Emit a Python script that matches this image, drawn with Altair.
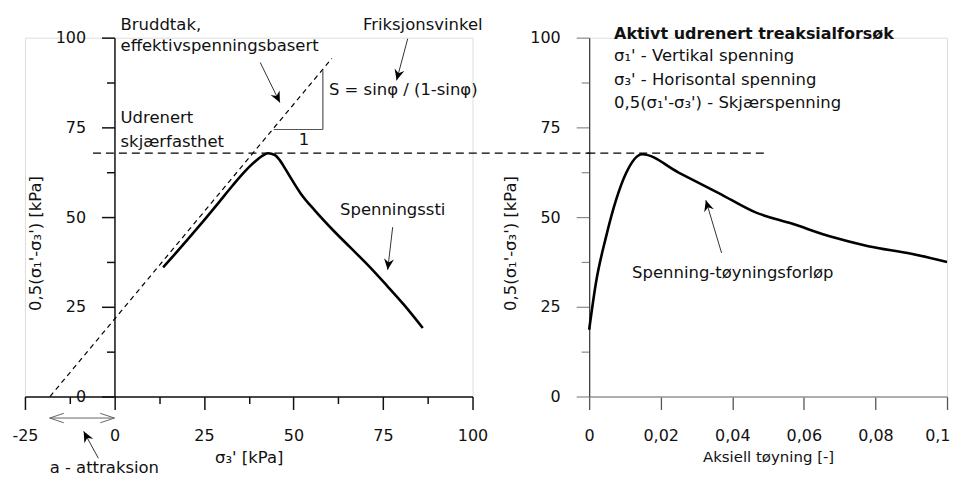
import altair as alt
import pandas as pd

FONT = "DejaVu Sans"
TXT = "#111111"

# ---------------- data ----------------
# Left panel: stress path (sigma3', 0.5(s1'-s3'))
path_x = [13.6, 17.0, 21.0, 25.0, 29.0, 33.0, 36.5, 39.5, 41.5, 42.9, 44.8, 46.2, 47.8, 49.5, 52.0, 56.0, 61.0, 66.0, 71.0, 76.0, 81.0, 86.1]
path_y = [36.0, 39.8, 44.4, 49.1, 53.9, 58.8, 62.8, 65.7, 67.2, 67.8, 67.3, 65.8, 63.3, 60.5, 56.6, 51.8, 46.4, 41.4, 36.4, 31.0, 25.4, 19.1]

# Right panel: stress-strain curve
strain = [0.0, 0.00195, 0.0047, 0.0075, 0.0103, 0.0148, 0.025, 0.0362, 0.0465, 0.0566, 0.0677, 0.078, 0.09, 0.1]
shear = [18.6, 32.0, 44.4, 54.7, 62.2, 67.5, 62.4, 56.7, 51.3, 48.2, 44.5, 41.9, 39.8, 37.5]

# failure envelope (dashed)
env_x = [-18.0, 60.7]
env_y = [0.0, 94.2]
# undrained strength level
su = 67.8

left_ticks = [-25, -12.5, 0, 12.5, 25, 37.5, 50, 62.5, 75, 87.5, 100]
y_ticks = [0, 12.5, 25, 37.5, 50, 62.5, 75, 87.5, 100]
right_ticks = [0, 0.01, 0.02, 0.03, 0.04, 0.05, 0.06, 0.07, 0.08, 0.09, 0.1]

# left annotations
left_text = ["Bruddtak,", "effektivspenningsbasert", "Udrenert", "skjærfasthet",
             "S = sinφ / (1-sinφ)", "Friksjonsvinkel", "Spenningssti", "a - attraksion"]
left_text_x = [1.7, 1.7, 1.7, 1.7, 59.9, 69.4, 63.0, -18.1]
left_text_y = [103.6, 97.8, 77.5, 70.8, 85.3, 103.6, 51.9, -20.0]

one_x, one_y = [52.9], [71.4]

# triangle (slope indicator)
tri_x = [44.5, 58.2]
tri_x2 = [58.2, 58.2]
tri_y = [74.4, 74.4]
tri_y2 = [74.4, 90.9]

# arrows left: start -> tip, head angle
arr_x = [40.7, 81.9, 77.7, -4.5]
arr_y = [93.1, 99.7, 47.2, -17.2]
arr_x2 = [46.2, 78.8, 76.3, -8.6]
arr_y2 = [81.9, 88.1, 35.3, -9.7]
arr_ang = [154, 195, 187, 332]

# double arrow "a"
att_x = [-18.1, 0.0]
att_y = -6.0

# right annotations
right_title = ["Aktivt udrenert treaksialforsøk"]
right_lines = ["σ₁' - Vertikal spenning", "σ₃' - Horisontal spenning",
               "0,5(σ₁'-σ₃') - Skjærspenning", "Spenning-tøyningsforløp"]
right_lines_x = [0.00696, 0.00696, 0.00696, 0.012]
right_lines_y = [95.0, 88.3, 81.7, 34.4]

rarr_x, rarr_y, rarr_x2, rarr_y2, rarr_ang = [0.0370], [40.0], [0.0326], [54.7], [343]

# ---------------- helpers ----------------
HEAD = "M0,0 L1,2.2 L0,1.5 L-1,2.2 Z"
CHEV = "M-1,3 L0,0 L1,3"

def cond(test, major, minor):
    return {"condition": {"test": test, "value": major}, "value": minor}

def base_axis(**kw):
    d = dict(grid=False, labelFont=FONT, labelFontSize=16, labelColor=TXT,
             titleFont=FONT, titleFontSize=16.5, titleFontWeight="normal", titleColor=TXT,
             labelFlush=False, labelOverlap=False)
    d.update(kw)
    return alt.Axis(**d)

W_L, W_R, H = 449, 359, 360

# ---------------- left panel ----------------
xl = alt.Scale(domain=[-25, 100], nice=False, zero=False)
yl = alt.Scale(domain=[0, 100], nice=False, zero=False)

lx_axis = base_axis(values=left_ticks,
                    labelExpr="datum.value % 25 === 0 ? '' + datum.value : ''",
                    tickSize=cond("datum.value % 25 === 0", 13, 7),
                    labelPadding=18, domainColor="#111", tickColor="#111",
                    domainWidth=1.5, tickWidth=1.5, title="σ₃' [kPa]", titlePadding=6)
ly_axis = base_axis(values=y_ticks,
                    labelExpr="datum.value % 25 === 0 ? '' + datum.value : ''",
                    tickSize=cond("datum.value % 25 === 0", 13, 8),
                    labelPadding=16, offset=-89.8, domainColor="#111", tickColor="#111",
                    domainWidth=1.5, tickWidth=1.5, title="0,5(σ₁'-σ₃') [kPa]",
                    titleX=-71, titleY=206)

df_path = pd.DataFrame({"x": path_x, "y": path_y, "i": range(len(path_x))})
path = alt.Chart(df_path).mark_line(color="black", strokeWidth=2.6, clip=False,
                                    interpolate="monotone").encode(
    x=alt.X("x:Q", scale=xl, axis=lx_axis),
    y=alt.Y("y:Q", scale=yl, axis=ly_axis),
    order="i:Q")

df_env = pd.DataFrame({"x": [env_x[0]], "x2": [env_x[1]], "y": [env_y[0]], "y2": [env_y[1]]})
env = alt.Chart(df_env).mark_rule(color="black", strokeWidth=1.2, strokeDash=[5, 4]).encode(
    x=alt.X("x:Q", scale=xl), x2="x2", y=alt.Y("y:Q", scale=yl), y2="y2")

df_su = pd.DataFrame({"x": [-6.0], "x2": [133.0], "y": [su], "y2": [su]})
su_l = alt.Chart(df_su).mark_rule(color="black", strokeWidth=1.3, strokeDash=[8, 5]).encode(
    x=alt.X("x:Q", scale=xl), x2="x2", y=alt.Y("y:Q", scale=yl), y2="y2")

df_tri = pd.DataFrame({"x": tri_x, "x2": tri_x2, "y": tri_y, "y2": tri_y2})
tri = alt.Chart(df_tri).mark_rule(color="#555", strokeWidth=1.2).encode(
    x=alt.X("x:Q", scale=xl), x2="x2", y=alt.Y("y:Q", scale=yl), y2="y2")

df_arr = pd.DataFrame({"x": arr_x, "x2": arr_x2, "y": arr_y, "y2": arr_y2, "a": arr_ang})
arr_shaft = alt.Chart(df_arr).mark_rule(color="#333", strokeWidth=1).encode(
    x=alt.X("x:Q", scale=xl), x2="x2", y=alt.Y("y:Q", scale=yl), y2="y2")
arr_head = alt.Chart(df_arr).mark_point(shape=HEAD, filled=True, color="black", size=100, opacity=1).encode(
    x=alt.X("x2:Q", scale=xl), y=alt.Y("y2:Q", scale=yl), angle=alt.Angle("a:Q", scale=None))

df_att = pd.DataFrame({"x": [att_x[0]], "x2": [att_x[1]], "y": [att_y], "y2": [att_y]})
att_line = alt.Chart(df_att).mark_rule(color="#666", strokeWidth=1).encode(
    x=alt.X("x:Q", scale=xl), x2="x2", y=alt.Y("y:Q", scale=yl), y2="y2")
df_atth = pd.DataFrame({"x": att_x, "y": [att_y, att_y], "a": [270, 90]})
att_head = alt.Chart(df_atth).mark_point(shape=CHEV, filled=False, color="#666", size=90, strokeWidth=1, opacity=1).encode(
    x=alt.X("x:Q", scale=xl), y=alt.Y("y:Q", scale=yl), angle=alt.Angle("a:Q", scale=None))

df_lt = pd.DataFrame({"x": left_text_x, "y": left_text_y, "t": left_text})
ltext = alt.Chart(df_lt).mark_text(align="left", baseline="middle", font=FONT, fontSize=16.5, color=TXT).encode(
    x=alt.X("x:Q", scale=xl), y=alt.Y("y:Q", scale=yl), text="t:N")
df_one = pd.DataFrame({"x": one_x, "y": one_y, "t": ["1"]})
onet = alt.Chart(df_one).mark_text(align="center", baseline="middle", font=FONT, fontSize=16.5, color=TXT).encode(
    x=alt.X("x:Q", scale=xl), y=alt.Y("y:Q", scale=yl), text="t:N")

left = alt.layer(path, env, su_l, tri, arr_shaft, arr_head, att_line, att_head, ltext, onet).properties(
    width=W_L, height=H)

# ---------------- right panel ----------------
xr = alt.Scale(domain=[0, 0.1], nice=False, zero=False)
yr = alt.Scale(domain=[0, 100], nice=False, zero=False)

rx_axis = base_axis(values=right_ticks,
                    labelExpr="round(datum.value*100) % 2 === 0 ? replace(format(datum.value, '.2~f'), '.', ',') : ''",
                    tickSize=cond("round(datum.value*100) % 2 === 0", 13, 7),
                    labelAlign=cond("datum.value > 0.095", "right", "center"),
                    labelOffset=cond("datum.value > 0.095", 3, 0),
                    labelPadding=18, domainColor="#999", tickColor="#555",
                    domainWidth=1.3, tickWidth=1.3, title="Aksiell tøyning [-]", titleFontSize=15,
                    titlePadding=6)
ry_axis = base_axis(values=y_ticks,
                    labelExpr="datum.value % 25 === 0 ? '' + datum.value : ''",
                    tickSize=cond("datum.value % 25 === 0", 13, 8),
                    labelPadding=16, domainColor="#444", tickColor="#888",
                    domainWidth=1.3, tickWidth=1.2, title="0,5(σ₁'-σ₃') [kPa]",
                    titleX=-71, titleY=206)

df_ss = pd.DataFrame({"x": strain, "y": shear, "i": range(len(strain))})
curve = alt.Chart(df_ss).mark_line(color="black", strokeWidth=2.6, clip=False,
                                   interpolate="monotone").encode(
    x=alt.X("x:Q", scale=xr, axis=rx_axis),
    y=alt.Y("y:Q", scale=yr, axis=ry_axis),
    order="i:Q")

df_sur = pd.DataFrame({"x": [-0.0005], "x2": [0.0493], "y": [su], "y2": [su]})
su_r = alt.Chart(df_sur).mark_rule(color="black", strokeWidth=1.3, strokeDash=[8, 5]).encode(
    x=alt.X("x:Q", scale=xr), x2="x2", y=alt.Y("y:Q", scale=yr), y2="y2")

df_rarr = pd.DataFrame({"x": rarr_x, "x2": rarr_x2, "y": rarr_y, "y2": rarr_y2, "a": rarr_ang})
rarr_shaft = alt.Chart(df_rarr).mark_rule(color="#333", strokeWidth=1).encode(
    x=alt.X("x:Q", scale=xr), x2="x2", y=alt.Y("y:Q", scale=yr), y2="y2")
rarr_head = alt.Chart(df_rarr).mark_point(shape=HEAD, filled=True, color="black", size=100, opacity=1).encode(
    x=alt.X("x2:Q", scale=xr), y=alt.Y("y2:Q", scale=yr), angle=alt.Angle("a:Q", scale=None))

df_rt = pd.DataFrame({"x": [0.00696], "y": [101.1], "t": right_title})
rtitle = alt.Chart(df_rt).mark_text(align="left", baseline="middle", font=FONT, fontSize=16,
                                     fontWeight="bold", color=TXT).encode(
    x=alt.X("x:Q", scale=xr), y=alt.Y("y:Q", scale=yr), text="t:N")
df_rl = pd.DataFrame({"x": right_lines_x, "y": right_lines_y, "t": right_lines})
rlines = alt.Chart(df_rl).mark_text(align="left", baseline="middle", font=FONT, fontSize=16.5, color=TXT).encode(
    x=alt.X("x:Q", scale=xr), y=alt.Y("y:Q", scale=yr), text="t:N")

right = alt.layer(curve, su_r, rarr_shaft, rarr_head, rtitle, rlines).properties(width=W_R, height=H)

chart = alt.hconcat(left, right, spacing=117, bounds="flush").properties(
    padding={"left": 3, "top": 7, "right": 0, "bottom": 0}
).configure_view(stroke=None).configure(background="white")

chart.save("out.html", embed_options={"renderer": "svg", "actions": False})
